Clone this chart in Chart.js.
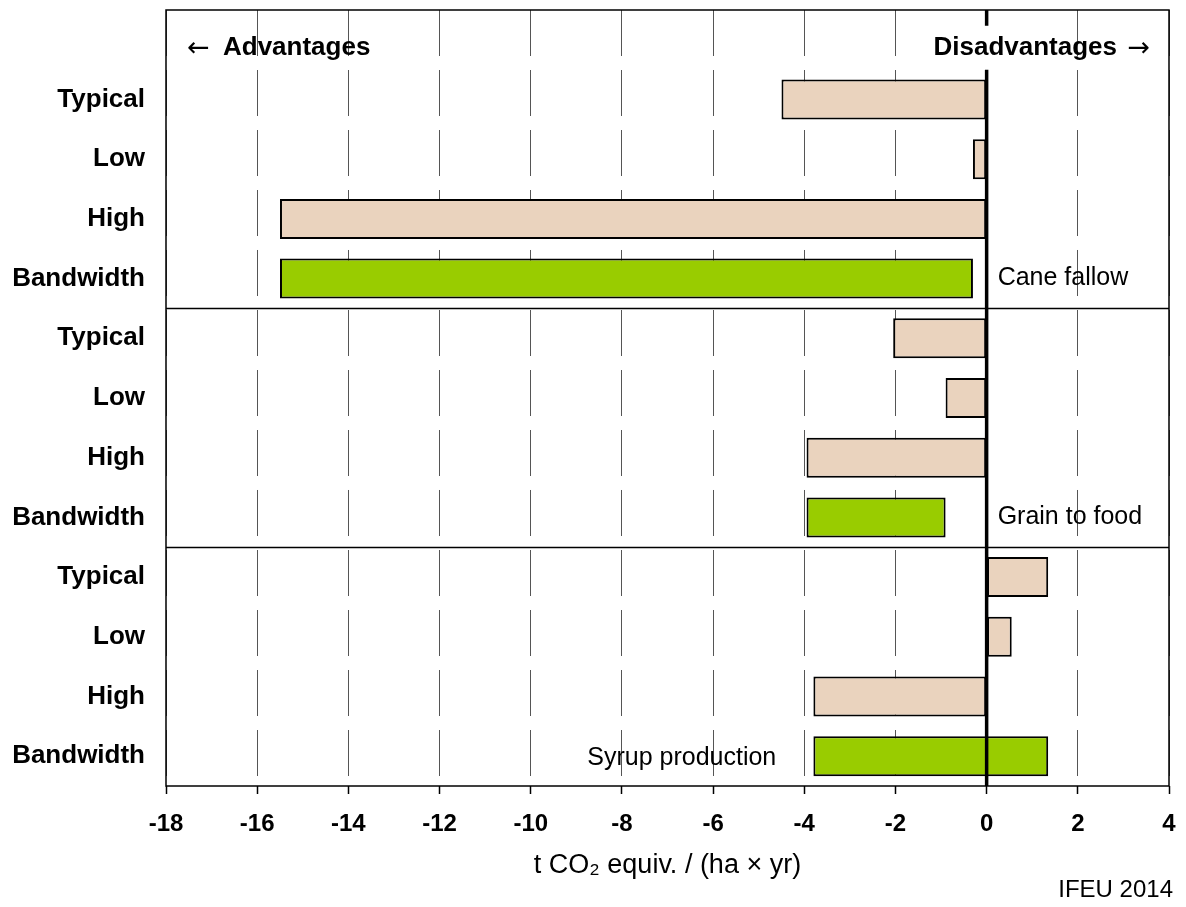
<!DOCTYPE html>
<html>
<head>
<meta charset="utf-8">
<script src="https://cdn.jsdelivr.net/npm/chart.js@4.4.1/dist/chart.umd.min.js"></script>
<style>
html, body { margin: 0; padding: 0; background: #fff; }
</style>
</head>
<body>
<canvas id="chart" width="1186" height="907"></canvas>
<script>
// Filas del gráfico (la primera fila queda libre para los rótulos de cabecera)
const rowLabels = ['', 'Typical', 'Low', 'High', 'Bandwidth',
                   'Typical', 'Low', 'High', 'Bandwidth',
                   'Typical', 'Low', 'High', 'Bandwidth'];
const groupNames = ['Cane fallow', 'Grain to food', 'Syrup production'];

// Valores en t CO2 equiv. / (ha x yr), uno por grupo
const typicalValues = [-4.5, -2.05, 1.35];
const lowValues = [-0.3, -0.9, 0.55];
const highValues = [-15.5, -3.95, -3.8];
const bandMin = [-15.5, -3.95, -3.8];
const bandMax = [-0.3, -0.9, 1.35];

const xTicks = [-18, -16, -14, -12, -10, -8, -6, -4, -2, 0, 2, 4];

const FONT = 'Arial, "Liberation Sans", sans-serif';

// Construir las series por fila
const beigeData = [null];
const greenData = [null];
groupNames.forEach((g, i) => {
    beigeData.push(typicalValues[i], lowValues[i], highValues[i], null);
    greenData.push(null, null, null, [bandMin[i], bandMax[i]]);
});

// Plugin para marco, líneas de separación, línea cero y textos
const extras = {
    id: 'extras',
    afterDatasetsDraw(chart) {
        const { ctx, chartArea: a, scales: { x, y } } = chart;
        ctx.save();

        // separadores entre grupos
        ctx.strokeStyle = '#000';
        ctx.lineWidth = 1.5;
        [4.5, 8.5].forEach((v) => {
            const py = Math.round(y.getPixelForValue(v)) + 0.5;
            ctx.beginPath();
            ctx.moveTo(a.left, py);
            ctx.lineTo(a.right, py);
            ctx.stroke();
        });

        // línea cero (interrumpida por el rótulo de cabecera)
        const x0 = x.getPixelForValue(0);
        const headTop = y.getPixelForValue(0) - 14;
        const headBottom = y.getPixelForValue(0.5);
        ctx.lineWidth = 3.5;
        ctx.beginPath();
        ctx.moveTo(x0, a.top);
        ctx.lineTo(x0, headTop);
        ctx.moveTo(x0, headBottom);
        ctx.lineTo(x0, a.bottom);
        ctx.stroke();

        // marco
        ctx.lineWidth = 1.5;
        ctx.strokeRect(a.left, a.top, a.width, a.height);

        // rótulos de cabecera
        const headY = y.getPixelForValue(0) + 15;
        ctx.fillStyle = '#000';
        ctx.textBaseline = 'alphabetic';
        ctx.font = '27px "DejaVu Sans", sans-serif';
        ctx.textAlign = 'left';
        ctx.fillText('\u2190', a.left + 21, headY + 1);
        ctx.textAlign = 'right';
        ctx.fillText('\u2192', a.right - 19, headY + 1);
        ctx.font = 'bold 26px ' + FONT;
        ctx.textAlign = 'left';
        ctx.fillText('Advantages', a.left + 57, headY);
        ctx.textAlign = 'right';
        ctx.fillText('Disadvantages', a.right - 52, headY);

        // nombres de grupo
        ctx.font = '25px ' + FONT;
        ctx.textAlign = 'left';
        ctx.fillText(groupNames[0], x0 + 11, y.getPixelForValue(4) + 6);
        ctx.fillText(groupNames[1], x0 + 11, y.getPixelForValue(8) + 7);
        ctx.textAlign = 'right';
        ctx.fillText(groupNames[2], x.getPixelForValue(-4) - 28, y.getPixelForValue(12) + 9);

        // fuente
        ctx.font = '24px ' + FONT;
        ctx.fillText('IFEU 2014', chart.width - 13, chart.height - 10);

        ctx.restore();
    },
};

const ctx = document.getElementById('chart').getContext('2d');
new Chart(ctx, {
    type: 'bar',
    data: {
        labels: rowLabels,
        datasets: [
            {
                label: 'Values',
                data: beigeData,
                backgroundColor: '#EAD3BE',
                borderColor: '#000',
                borderWidth: 2,
                borderSkipped: false,
                grouped: false,
                barPercentage: 0.67,
                categoryPercentage: 1,
            },
            {
                label: 'Bandwidth',
                data: greenData,
                backgroundColor: '#99CC00',
                borderColor: '#000',
                borderWidth: 2,
                borderSkipped: false,
                grouped: false,
                barPercentage: 0.67,
                categoryPercentage: 1,
            },
        ],
    },
    options: {
        indexAxis: 'y',
        responsive: false,
        animation: false,
        layout: { padding: { top: 10, right: 17, left: 0, bottom: 0 } },
        plugins: {
            legend: { display: false },
            tooltip: { enabled: false },
        },
        scales: {
            x: {
                min: -18,
                max: 4,
                afterBuildTicks: (scale) => {
                    scale.ticks = xTicks.map((v) => ({ value: v }));
                },
                afterFit: (scale) => {
                    scale.height = 121;
                    scale.paddingLeft = 0;
                    scale.paddingRight = 0;
                },
                border: { display: false, dash: [46, 14] },
                grid: {
                    color: (c) => (c.tick && c.tick.value === 0 ? 'rgba(0,0,0,0)' : '#555'),
                    lineWidth: 1,
                    drawTicks: true,
                    tickLength: 8,
                    tickColor: '#000',
                    tickWidth: 1.5,
                },
                ticks: {
                    color: '#000',
                    padding: 16,
                    font: { family: FONT, size: 24, weight: 'bold' },
                },
                title: {
                    display: true,
                    text: 't CO\u2082 equiv. / (ha \u00d7 yr)',
                    color: '#000',
                    font: { family: FONT, size: 27 },
                    padding: { top: 0, bottom: 25 },
                },
            },
            y: {
                afterFit: (scale) => {
                    scale.width = 166;
                    scale.paddingTop = 0;
                    scale.paddingBottom = 0;
                },
                border: { display: false },
                grid: { display: false, drawTicks: false },
                ticks: {
                    color: '#000',
                    padding: 21,
                    autoSkip: false,
                    font: { family: FONT, size: 26, weight: 'bold' },
                },
            },
        },
    },
    plugins: [extras],
});
</script>
</body>
</html>
